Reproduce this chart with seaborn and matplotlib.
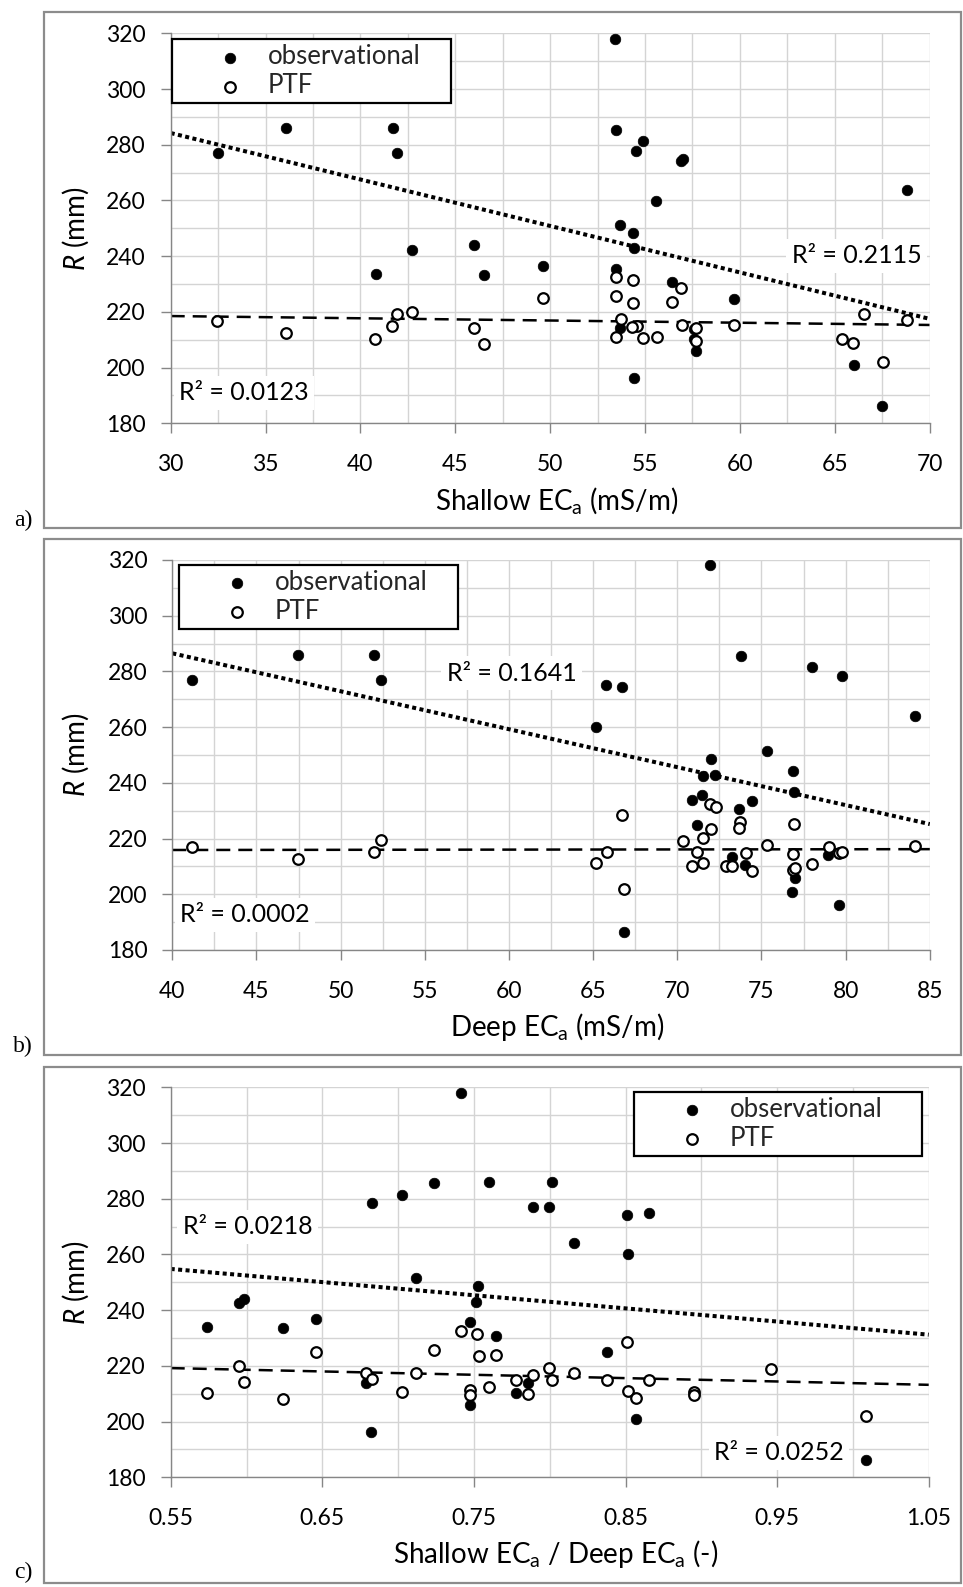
import numpy as np
import pandas as pd
import matplotlib
matplotlib.use("Agg")
import matplotlib.pyplot as plt
from matplotlib.patches import Rectangle
from matplotlib.ticker import FixedLocator
import seaborn as sns

# ---------------- data ----------------
# panel a: shallow ECa (mS/m)
xa_obs = [32.5, 36.1, 41.7, 41.95, 42.7, 40.8, 46.0, 46.5, 49.6, 53.4, 53.5, 54.9, 54.55, 56.9, 57.0,
          55.6, 53.7, 54.35, 54.4, 53.5, 56.4, 59.7, 53.7, 54.4, 57.7, 66.0, 67.5, 68.8, 57.6, 57.6]
ya_obs = [277.0, 286.0, 286.0, 277.0, 242.3, 233.7, 243.9, 233.4, 236.6, 317.8, 285.3, 281.3, 277.9, 274.2, 275.0,
          259.8, 251.2, 248.4, 242.8, 235.5, 230.6, 224.8, 214.3, 196.1, 205.9, 200.9, 186.3, 263.8, 213.9, 210.3]
xa_ptf = [32.46, 36.1, 40.77, 41.67, 41.95, 42.7, 46.0, 46.5, 49.64, 53.46, 54.39, 53.47, 54.35, 56.9, 56.41,
          53.74, 54.56, 53.47, 54.88, 55.63, 56.95, 57.68, 57.68, 59.71, 65.37, 65.98, 66.56, 67.53, 68.8, 54.3]
ya_ptf = [216.6, 212.3, 210.3, 215.1, 219.3, 220.0, 214.3, 208.3, 224.9, 232.4, 231.3, 225.8, 223.2, 228.6, 223.7,
          217.5, 215.1, 211.0, 210.7, 211.0, 215.2, 214.3, 209.5, 215.2, 210.1, 208.9, 219.3, 202.0, 217.2, 214.5]
# trend-line values at the left / right ends of the x axis
trend_a_obs = [284.2, 217.5]
trend_a_ptf = [218.5, 215.3]

# panel b: deep ECa (mS/m)
xb_obs = [41.15, 47.49, 51.98, 52.38, 71.94, 73.76, 77.98, 79.78, 65.79, 66.73, 84.1, 65.17, 75.31, 72.0, 71.54,
          72.23, 76.88, 76.94, 71.48, 70.87, 74.42, 73.69, 71.15, 73.23, 74.02, 78.97, 77.0, 76.8, 79.6, 66.85]
yb_obs = [276.9, 285.9, 285.9, 276.9, 318.2, 285.5, 281.5, 278.4, 275.0, 274.3, 264.0, 259.9, 251.4, 248.6, 242.5,
          242.7, 244.1, 236.7, 235.5, 233.8, 233.5, 230.7, 225.0, 213.5, 210.4, 214.1, 205.7, 200.9, 196.2, 186.3]
xb_ptf = [41.15, 47.49, 51.98, 52.38, 66.73, 65.80, 65.17, 66.85, 71.94, 72.27, 73.72, 73.69, 72.0, 71.54, 70.31,
          71.15, 70.87, 71.5, 72.87, 73.23, 74.06, 74.46, 75.31, 76.94, 76.88, 76.88, 77.0, 77.98, 79.03, 79.6,
          79.8, 84.1]
yb_ptf = [216.9, 212.5, 215.3, 219.5, 228.6, 215.2, 211.1, 201.9, 232.4, 231.5, 225.8, 223.8, 223.3, 220.1, 219.2,
          215.2, 210.3, 211.1, 210.0, 210.0, 214.9, 208.4, 217.7, 225.1, 214.6, 208.7, 209.5, 210.9, 217.1, 214.9,
          215.3, 217.3]
trend_b_obs = [286.5, 225.2]
trend_b_ptf = [215.9, 216.2]

# panel c: shallow / deep ECa (-)
xc_obs = [0.7417, 0.683, 0.7026, 0.7239, 0.7597, 0.789, 0.712, 0.753, 0.7515, 0.5948, 0.5983, 0.5741, 0.6242,
          0.6457, 0.7471, 0.7645, 0.6791, 0.6824, 0.7471, 0.7777, 0.7858, 0.8016, 0.7996, 0.851, 0.8653, 0.816,
          0.8516, 0.8376, 0.8567, 1.0086]
yc_obs = [318.1, 278.3, 281.5, 285.7, 286.0, 277.2, 251.4, 248.8, 242.8, 242.4, 244.1, 233.9, 233.6,
          236.8, 235.6, 230.7, 213.9, 196.1, 205.8, 210.3, 213.9, 286.0, 277.0, 274.2, 275.0, 264.1,
          260.0, 225.0, 200.9, 186.3]
xc_ptf = [0.5741, 0.5948, 0.5983, 0.6242, 0.6457, 0.6791, 0.683, 0.7026, 0.712, 0.7239, 0.7417, 0.752, 0.7531,
          0.7645, 0.7471, 0.7471, 0.7597, 0.7777, 0.7858, 0.789, 0.7996, 0.8016, 0.816, 0.8376, 0.851, 0.8516,
          0.8567, 0.8653, 0.8949, 0.8949, 0.946, 1.0086]
yc_ptf = [210.2, 220.0, 214.3, 208.2, 225.1, 217.4, 215.3, 210.7, 217.6, 225.8, 232.4, 231.6, 223.5,
          224.0, 211.2, 209.6, 212.4, 214.9, 210.0, 216.8, 219.2, 215.1, 217.3, 215.1, 228.6, 211.0,
          208.6, 215.1, 210.8, 209.6, 219.0, 201.9]
trend_c_obs = [254.8, 231.2]
trend_c_ptf = [219.2, 213.2]

series_names = ["observational", "PTF"]
xa_ticks = [30, 35, 40, 45, 50, 55, 60, 65, 70]
xb_ticks = [40, 45, 50, 55, 60, 65, 70, 75, 80, 85]
xc_ticks = [0.55, 0.65, 0.75, 0.85, 0.95, 1.05]
y_ticks = [180, 200, 220, 240, 260, 280, 300, 320]
xa_title = "Shallow EC$_\\mathregular{a}$ (mS/m)"
xb_title = "Deep EC$_\\mathregular{a}$ (mS/m)"
xc_title = "Shallow EC$_\\mathregular{a}$ / Deep EC$_\\mathregular{a}$ (-)"
y_title = "$R$ (mm)"
r2_a = ["R² = 0.2115", "R² = 0.0123"]
r2_b = ["R² = 0.1641", "R² = 0.0002"]
r2_c = ["R² = 0.0218", "R² = 0.0252"]
panel_tags = ["a)", "b)", "c)"]

# ---------------- style ----------------
sns.set_theme(style="white")
FONT = "Lato"
plt.rcParams['font.family'] = [FONT, 'DejaVu Sans']
plt.rcParams['mathtext.fontset'] = 'custom'
plt.rcParams['mathtext.rm'] = FONT
plt.rcParams['mathtext.it'] = FONT + ':italic'
plt.rcParams['mathtext.bf'] = FONT + ':bold'

W, H = 963, 1587
fig = plt.figure(figsize=(W / 100, H / 100), dpi=100)
fig.patch.set_facecolor("white")

GRID = "#d4d4d4"
AXC = "#868686"
TICK_FS = 16.5
TITLE_FS = 20
R2_FS = 18
LEG_FS = 18.5

panels = [
    dict(rect=(170.7, 33.3, 929.5, 423.3), frame=(44, 12, 961, 528), tag_y=520,
         xo=xa_obs, yo=ya_obs, xp=xa_ptf, yp=ya_ptf, to=trend_a_obs, tp=trend_a_ptf,
         ticks=xa_ticks, step=2.5, fmt="{:d}",
         xtitle=xa_title, leg=(172, 39.3, 451), r2=r2_a,
         r2pos=[(62.74, 240.2), (30.44, 191.0)]),
    dict(rect=(172.3, 560, 929.8, 950), frame=(44, 539, 961, 1055), tag_y=1046,
         xo=xb_obs, yo=yb_obs, xp=xb_ptf, yp=yb_ptf, to=trend_b_obs, tp=trend_b_ptf,
         ticks=xb_ticks, step=2.5, fmt="{:d}",
         xtitle=xb_title, leg=(179, 565, 458), r2=r2_b,
         r2pos=[(56.3, 279.3), (40.46, 192.6)]),
    dict(rect=(170.7, 1087.3, 928.7, 1477.3), frame=(44, 1067, 961, 1583), tag_y=1572,
         xo=xc_obs, yo=yc_obs, xp=xc_ptf, yp=yc_ptf, to=trend_c_obs, tp=trend_c_ptf,
         ticks=xc_ticks, step=0.05, fmt="{:.2f}",
         xtitle=xc_title, leg=(634.3, 1091.7, 921.7), r2=r2_c,
         r2pos=[(0.558, 270.0), (0.9084, 188.9)]),
]

for i, p in enumerate(panels):
    l, t, r, b = p["rect"]
    ax = fig.add_axes([l / W, 1 - b / H, (r - l) / W, (b - t) / H])
    ax.set_facecolor("white")
    x0, x1 = p["ticks"][0], p["ticks"][-1]

    # trend lines
    sns.lineplot(x=[x0, x1], y=p["to"], ax=ax, color="black", linewidth=2.9,
                 linestyle=(0, (1.0, 0.85)), dash_capstyle="butt", zorder=2)
    sns.lineplot(x=[x0, x1], y=p["tp"], ax=ax, color="black", linewidth=1.8,
                 linestyle=(0, (5.6, 3.2)), zorder=2)

    sns.scatterplot(x=p["xo"], y=p["yo"], ax=ax, color="black", edgecolor="black",
                    s=58, linewidth=0.5, label=series_names[0], zorder=3)
    sns.scatterplot(x=p["xp"], y=p["yp"], ax=ax, facecolor="white", edgecolor="black",
                    s=58, linewidth=1.6, label=series_names[1], zorder=4)

    ax.set_xlim(x0, x1)
    ax.set_ylim(180, 320)
    ax.xaxis.set_major_locator(FixedLocator(p["ticks"]))
    ax.xaxis.set_minor_locator(FixedLocator(list(np.arange(x0, x1 + p["step"] / 2, p["step"]))))
    ax.set_xticklabels([p["fmt"].format(v) for v in p["ticks"]])
    ax.yaxis.set_major_locator(FixedLocator(y_ticks))
    ax.yaxis.set_minor_locator(FixedLocator(list(range(180, 321, 10))))
    ax.set_yticklabels([str(v) for v in y_ticks])
    ax.grid(which="both", color=GRID, lw=1.0, zorder=0)
    ax.set_axisbelow(True)
    for s in ["top", "right"]:
        ax.spines[s].set_visible(False)
    for s in ["left", "bottom"]:
        ax.spines[s].set_color(AXC)
        ax.spines[s].set_linewidth(1.0)
    ax.tick_params(axis="x", which="major", direction="out", length=7, width=1.0, color=AXC,
                   labelsize=TICK_FS, labelcolor="black", pad=15, bottom=True)
    ax.tick_params(axis="y", which="major", direction="out", length=7, width=1.0, color=AXC,
                   labelsize=TICK_FS, labelcolor="black", pad=11, left=True)
    ax.tick_params(which="minor", length=0)

    ax.set_xlabel(p["xtitle"], fontsize=TITLE_FS, color="black")
    ax.xaxis.set_label_coords(0.5 + 6.0 / (r - l), -77.0 / (b - t))
    ax.xaxis.label.set_va("center")
    ax.set_ylabel(y_title, fontsize=TITLE_FS, color="black")
    ax.yaxis.set_label_coords((76 - l) / (r - l), 0.5)
    ax.yaxis.label.set_va("center")
    ax.yaxis.label.set_ha("center")

    # legend
    lx0, ly0, lx1 = p["leg"]
    bx = (lx0 - l) / (r - l)
    by = (b - ly0) / (b - t)
    bw = (lx1 - lx0) / (r - l)
    leg = ax.legend(loc="upper left", bbox_to_anchor=(bx, by - 0.3, bw, 0.3), mode="expand",
                    borderaxespad=0, frameon=True, fancybox=False, edgecolor="black",
                    fontsize=LEG_FS, handlelength=4.1, handletextpad=-0.58, borderpad=0.2,
                    labelspacing=0.15)
    leg.get_frame().set_linewidth(1.6)
    leg.get_frame().set_facecolor("white")
    leg.get_frame().set_alpha(1)
    leg.set_zorder(6)

    # R^2 labels
    for txt, (tx, ty) in zip(p["r2"], p["r2pos"]):
        ax.text(tx, ty, txt, fontsize=R2_FS, ha="left", va="center", color="black", zorder=5,
                bbox=dict(facecolor="white", edgecolor="none", pad=4))

    # outer frame and tag
    fl, ft, fr, fb = p["frame"]
    fig.patches.append(Rectangle((fl / W, 1 - fb / H), (fr - fl) / W, (fb - ft) / H,
                                 transform=fig.transFigure, fill=False, edgecolor="#8c8c8c",
                                 lw=1.6, zorder=0))
    fig.text(23 / W, 1 - p["tag_y"] / H, panel_tags[i], fontsize=17, family="Liberation Serif",
             ha="center", va="center", color="black")

fig.savefig("out.png", dpi=100, facecolor="white")
